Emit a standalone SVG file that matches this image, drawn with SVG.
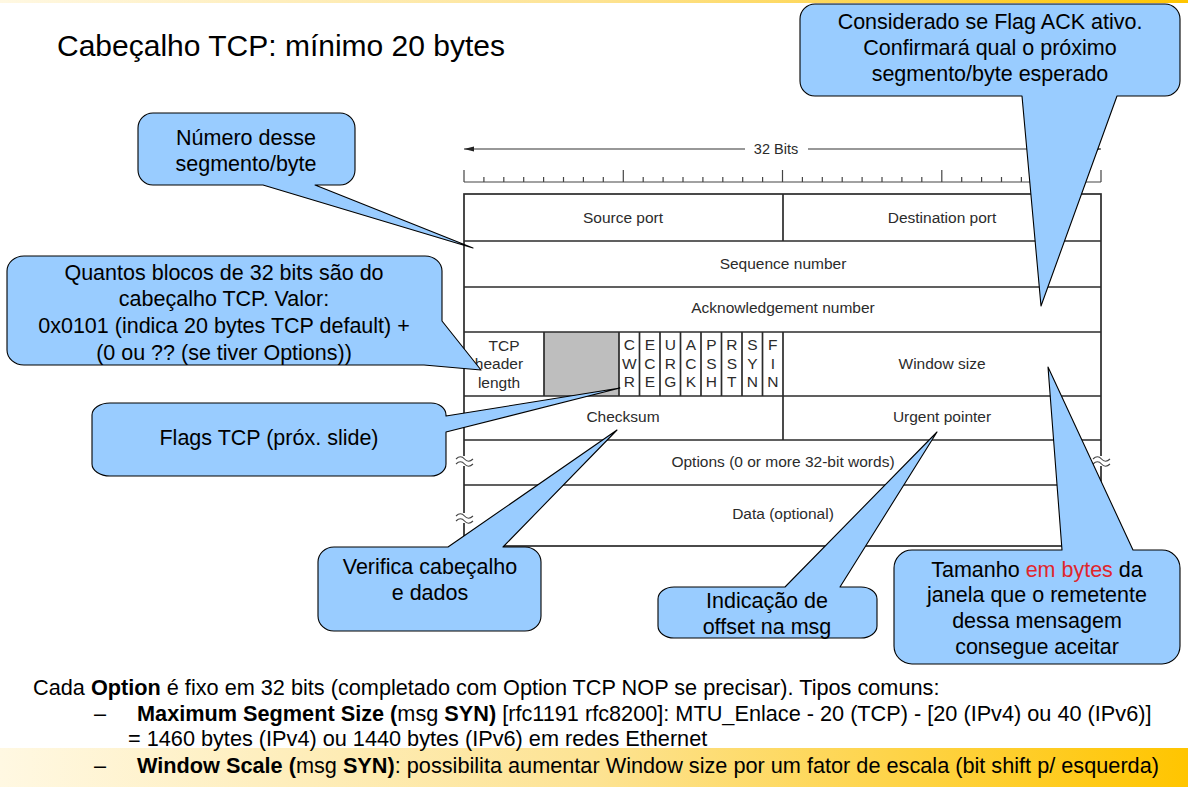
<svg xmlns="http://www.w3.org/2000/svg" width="1188" height="787" viewBox="0 0 1188 787">
<defs>
  <linearGradient id="band" x1="0" y1="0" x2="1" y2="0">
    <stop offset="0" stop-color="#FFF8E2"/>
    <stop offset="0.5" stop-color="#FDE393"/>
    <stop offset="1" stop-color="#FFC500"/>
  </linearGradient>
  <marker id="tip" viewBox="0 0 10 6" refX="10" refY="3" markerWidth="10" markerHeight="6" orient="auto-start-reverse" markerUnits="userSpaceOnUse">
    <path d="M0,0.5 L10,3 L0,5.5 Z" fill="#222"/>
  </marker>
</defs>
<style>
  text { font-family: "Liberation Sans", Arial, sans-serif; }
  .cell { font-size: 15.5px; fill: #2b2b2b; text-anchor: middle; }
  .flag { font-size: 15.5px; fill: #2b2b2b; text-anchor: middle; }
  .grid { stroke: #2b2b2b; stroke-width: 1.7; fill: none; }
  .tick { stroke: #444; stroke-width: 1.2; }
  .callout { fill: #99CCFF; stroke: #000; stroke-width: 1.1; stroke-linejoin: round; }
  .ct { font-size: 21.5px; fill: #000; text-anchor: middle; }
  .body { font-size: 21.7px; fill: #000; }
  .brk { stroke: #444; stroke-width: 1.1; fill: none; }
</style>

<!-- decorative bands -->
<rect x="0" y="0" width="1188" height="3" fill="url(#band)"/>
<rect x="0" y="748" width="1188" height="39" fill="url(#band)"/>

<!-- title -->
<text x="57" y="56" style="font-size:30px" fill="#000">Cabeçalho TCP: mínimo 20 bytes</text>

<!-- header layout -->
<g id="tcp-header">
  <!-- 32-bit width arrow -->
  <line x1="464" y1="149" x2="745" y2="149" stroke="#333" stroke-width="1.2" marker-start="url(#tip)"/>
  <line x1="808" y1="149" x2="1101" y2="149" stroke="#333" stroke-width="1.2" marker-end="url(#tip)"/>
  <text x="776" y="154" class="cell" style="font-size:14.5px">32 Bits</text>

  <!-- bit ruler -->
  <line x1="464" y1="182" x2="1101" y2="182" class="tick"/>
  <g class="tick">
    <line x1="464" y1="182" x2="464" y2="170"/>
    <line x1="483.9" y1="182" x2="483.9" y2="177"/>
    <line x1="503.8" y1="182" x2="503.8" y2="177"/>
    <line x1="523.7" y1="182" x2="523.7" y2="177"/>
    <line x1="543.6" y1="182" x2="543.6" y2="177"/>
    <line x1="563.5" y1="182" x2="563.5" y2="177"/>
    <line x1="583.4" y1="182" x2="583.4" y2="177"/>
    <line x1="603.3" y1="182" x2="603.3" y2="177"/>
    <line x1="623.3" y1="182" x2="623.3" y2="170"/>
    <line x1="643.2" y1="182" x2="643.2" y2="177"/>
    <line x1="663.1" y1="182" x2="663.1" y2="177"/>
    <line x1="683" y1="182" x2="683" y2="177"/>
    <line x1="702.9" y1="182" x2="702.9" y2="177"/>
    <line x1="722.8" y1="182" x2="722.8" y2="177"/>
    <line x1="742.7" y1="182" x2="742.7" y2="177"/>
    <line x1="762.6" y1="182" x2="762.6" y2="177"/>
    <line x1="782.5" y1="182" x2="782.5" y2="170"/>
    <line x1="802.4" y1="182" x2="802.4" y2="177"/>
    <line x1="822.3" y1="182" x2="822.3" y2="177"/>
    <line x1="842.2" y1="182" x2="842.2" y2="177"/>
    <line x1="862.1" y1="182" x2="862.1" y2="177"/>
    <line x1="882" y1="182" x2="882" y2="177"/>
    <line x1="901.9" y1="182" x2="901.9" y2="177"/>
    <line x1="921.8" y1="182" x2="921.8" y2="177"/>
    <line x1="941.8" y1="182" x2="941.8" y2="170"/>
    <line x1="961.7" y1="182" x2="961.7" y2="177"/>
    <line x1="981.6" y1="182" x2="981.6" y2="177"/>
    <line x1="1001.5" y1="182" x2="1001.5" y2="177"/>
    <line x1="1021.4" y1="182" x2="1021.4" y2="177"/>
    <line x1="1041.3" y1="182" x2="1041.3" y2="177"/>
    <line x1="1061.2" y1="182" x2="1061.2" y2="177"/>
    <line x1="1081.1" y1="182" x2="1081.1" y2="177"/>
    <line x1="1101" y1="182" x2="1101" y2="170"/>
  </g>

  <!-- reserved bits -->
  <rect x="544" y="332" width="75" height="64" fill="#BEBEBE"/>

  <!-- grid -->
  <rect x="464" y="194" width="637" height="352" class="grid"/>
  <g class="grid">
    <line x1="464" y1="241" x2="1101" y2="241"/>
    <line x1="464" y1="287" x2="1101" y2="287"/>
    <line x1="464" y1="332" x2="1101" y2="332"/>
    <line x1="464" y1="396" x2="1101" y2="396"/>
    <line x1="464" y1="440" x2="1101" y2="440"/>
    <line x1="464" y1="485" x2="1101" y2="485"/>
    <line x1="783" y1="194" x2="783" y2="241"/>
    <line x1="783" y1="396" x2="783" y2="440"/>
    <line x1="544" y1="332" x2="544" y2="396"/>
    <line x1="619" y1="332" x2="619" y2="396"/>
    <line x1="639.5" y1="332" x2="639.5" y2="396"/>
    <line x1="660" y1="332" x2="660" y2="396"/>
    <line x1="680.5" y1="332" x2="680.5" y2="396"/>
    <line x1="701" y1="332" x2="701" y2="396"/>
    <line x1="721.5" y1="332" x2="721.5" y2="396"/>
    <line x1="742" y1="332" x2="742" y2="396"/>
    <line x1="762.5" y1="332" x2="762.5" y2="396"/>
    <line x1="783" y1="332" x2="783" y2="396"/>
  </g>

  <!-- break marks on the variable-length rows -->
  <g>
    <rect x="455" y="456" width="18" height="10" fill="#fff"/>
    <path class="brk" d="M456,459 c3,-3 6,-3 8.5,0 s5.5,3 8.5,0 M456,464 c3,-3 6,-3 8.5,0 s5.5,3 8.5,0"/>
    <rect x="455" y="513" width="18" height="10" fill="#fff"/>
    <path class="brk" d="M456,516 c3,-3 6,-3 8.5,0 s5.5,3 8.5,0 M456,521 c3,-3 6,-3 8.5,0 s5.5,3 8.5,0"/>
    <rect x="1092" y="456" width="18" height="10" fill="#fff"/>
    <path class="brk" d="M1093,459 c3,-3 6,-3 8.5,0 s5.5,3 8.5,0 M1093,464 c3,-3 6,-3 8.5,0 s5.5,3 8.5,0"/>
    <rect x="1092" y="513" width="18" height="10" fill="#fff"/>
    <path class="brk" d="M1093,516 c3,-3 6,-3 8.5,0 s5.5,3 8.5,0 M1093,521 c3,-3 6,-3 8.5,0 s5.5,3 8.5,0"/>
  </g>

  <!-- field names -->
  <text x="623" y="223" class="cell">Source port</text>
  <text x="942" y="223" class="cell">Destination port</text>
  <text x="783" y="269" class="cell">Sequence number</text>
  <text x="783" y="313" class="cell">Acknowledgement number</text>
  <text x="504" y="351" class="flag">TCP</text>
  <text x="499" y="369" class="flag">header</text>
  <text x="499" y="388" class="flag">length</text>
  <g class="flag">
    <text x="629.3" y="350">C</text><text x="629.3" y="369">W</text><text x="629.3" y="387">R</text>
    <text x="649.8" y="350">E</text><text x="649.8" y="369">C</text><text x="649.8" y="387">E</text>
    <text x="670.3" y="350">U</text><text x="670.3" y="369">R</text><text x="670.3" y="387">G</text>
    <text x="690.8" y="350">A</text><text x="690.8" y="369">C</text><text x="690.8" y="387">K</text>
    <text x="711.3" y="350">P</text><text x="711.3" y="369">S</text><text x="711.3" y="387">H</text>
    <text x="731.8" y="350">R</text><text x="731.8" y="369">S</text><text x="731.8" y="387">T</text>
    <text x="752.3" y="350">S</text><text x="752.3" y="369">Y</text><text x="752.3" y="387">N</text>
    <text x="772.8" y="350">F</text><text x="772.8" y="369">I</text><text x="772.8" y="387">N</text>
  </g>
  <text x="942" y="369" class="cell">Window size</text>
  <text x="623" y="422" class="cell">Checksum</text>
  <text x="942" y="422" class="cell">Urgent pointer</text>
  <text x="783" y="467" class="cell">Options (0 or more 32-bit words)</text>
  <text x="783" y="519" class="cell">Data (optional)</text>
</g>

<!-- callouts -->
<g id="callout-ack">
  <path class="callout" d="M815,4 H1165 A15 15 0 0 1 1180,19 V81 A15 15 0 0 1 1165,96 H1117 L1041,306 L1022,96 H815 A15 15 0 0 1 800,81 V19 A15 15 0 0 1 815,4 Z"/>
  <text x="990" y="29" class="ct">Considerado se Flag ACK ativo.</text>
  <text x="990" y="55" class="ct">Confirmará qual o próximo</text>
  <text x="990" y="81" class="ct">segmento/byte esperado</text>
</g>

<g id="callout-seq">
  <path class="callout" d="M153,113 H340 A15 15 0 0 1 355,128 V170 A15 15 0 0 1 340,185 H315 L473,248 L263,185 H153 A15 15 0 0 1 138,170 V128 A15 15 0 0 1 153,113 Z"/>
  <text x="246" y="145" class="ct">Número desse</text>
  <text x="246" y="171" class="ct">segmento/byte</text>
</g>

<g id="callout-hlen">
  <path class="callout" d="M24,256 H425 A17 15 0 0 1 442,271 V321 L481,370 L424,365 H24 A17 15 0 0 1 7,350 V271 A17 15 0 0 1 24,256 Z"/>
  <text x="224" y="280" class="ct">Quantos blocos de 32 bits são do</text>
  <text x="224" y="306" class="ct">cabeçalho TCP. Valor:</text>
  <text x="224" y="333" class="ct">0x0101 (indica 20 bytes TCP default) +</text>
  <text x="224" y="360" class="ct">(0 ou ?? (se tiver Options))</text>
</g>

<g id="callout-flags">
  <path class="callout" d="M110,403 H431 A15 12 0 0 1 446,415 V416 L620,388 L446,432 V464 A15 12 0 0 1 431,476 H110 A18 12 0 0 1 92,464 V415 A18 12 0 0 1 110,403 Z"/>
  <text x="269" y="445" class="ct">Flags TCP (próx. slide)</text>
</g>

<g id="callout-checksum">
  <path class="callout" d="M334,547 H448 L617,430 L503,547 H525 A16 15 0 0 1 541,562 V616 A16 15 0 0 1 525,631 H334 A16 15 0 0 1 318,616 V562 A16 15 0 0 1 334,547 Z"/>
  <text x="430" y="574" class="ct">Verifica cabeçalho</text>
  <text x="430" y="600" class="ct">e dados</text>
</g>

<g id="callout-urgent">
  <path class="callout" d="M674,587 H785 L937,432 L840,587 H861 A16 12 0 0 1 877,599 V626 A16 12 0 0 1 861,638 H674 A16 12 0 0 1 658,626 V599 A16 12 0 0 1 674,587 Z"/>
  <text x="767" y="608" class="ct">Indicação de</text>
  <text x="767" y="634" class="ct">offset na msg</text>
</g>

<g id="callout-window">
  <path class="callout" d="M912,550 H1062 L1048,367 L1133,550 H1162 A18 18 0 0 1 1180,568 V646 A18 18 0 0 1 1162,664 H912 A18 18 0 0 1 894,646 V568 A18 18 0 0 1 912,550 Z"/>
  <text x="1037" y="577" class="ct">Tamanho <tspan fill="#E0262C">em bytes</tspan> da</text>
  <text x="1037" y="602" class="ct">janela que o remetente</text>
  <text x="1037" y="628" class="ct">dessa mensagem</text>
  <text x="1037" y="654" class="ct">consegue aceitar</text>
</g>

<!-- notes on options -->
<g id="notes">
  <text x="33" y="695" class="body">Cada <tspan font-weight="bold">Option</tspan> é fixo em 32 bits (completado com Option TCP NOP se precisar). Tipos comuns:</text>
  <text x="94" y="721" class="body">–</text>
  <text x="137" y="721" class="body"><tspan font-weight="bold">Maximum Segment Size (</tspan>msg <tspan font-weight="bold">SYN)</tspan> [rfc1191 rfc8200]: MTU_Enlace - 20 (TCP) - [20 (IPv4) ou 40 (IPv6)]</text>
  <text x="128" y="746" class="body">= 1460 bytes (IPv4) ou 1440 bytes (IPv6) em redes Ethernet</text>
  <text x="94" y="773" class="body">–</text>
  <text x="137" y="773" class="body"><tspan font-weight="bold">Window Scale (</tspan>msg <tspan font-weight="bold">SYN)</tspan>: possibilita aumentar Window size por um fator de escala (bit shift p/ esquerda)</text>
</g>
</svg>
